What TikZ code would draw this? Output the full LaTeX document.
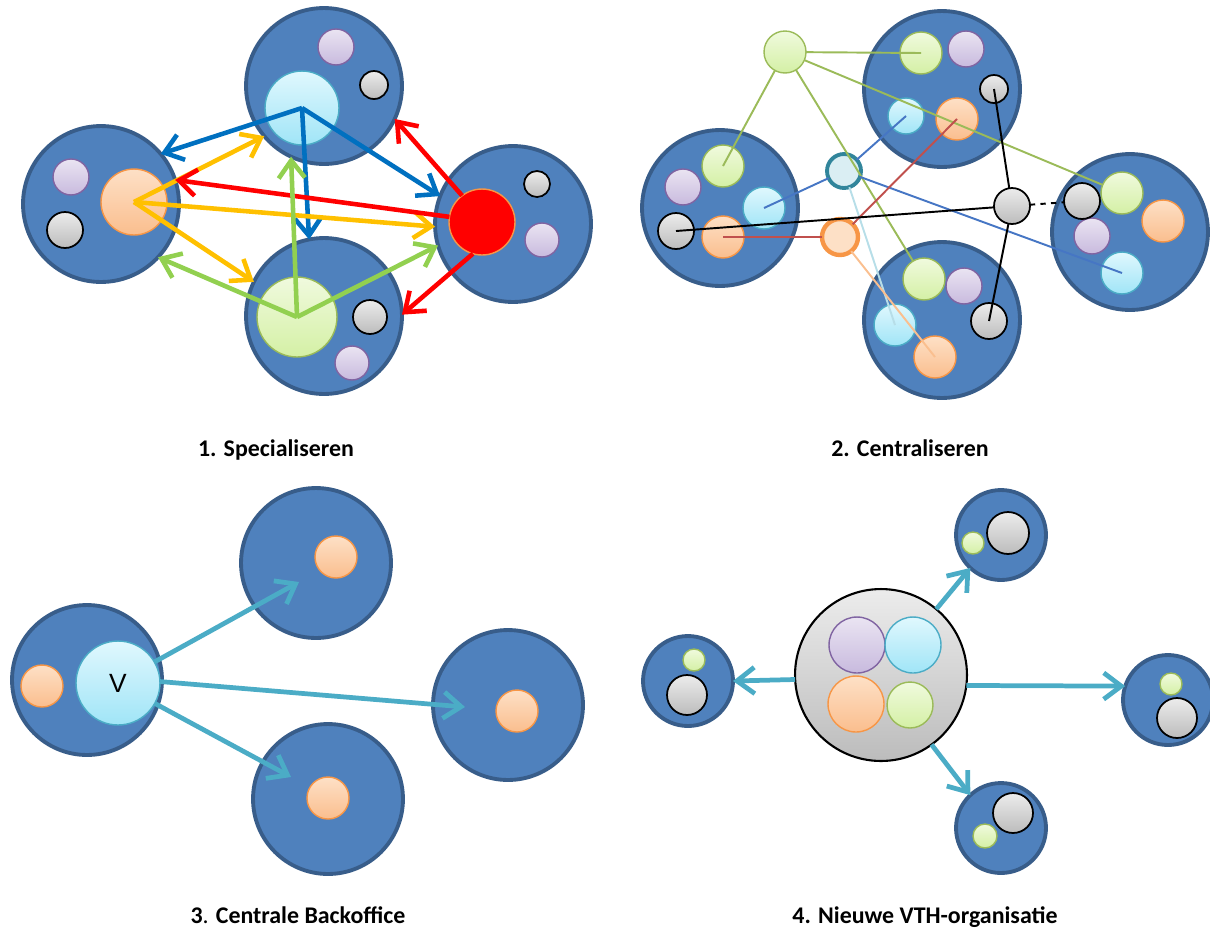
\documentclass[tikz,border=0pt]{standalone}
\usepackage[RGB]{xcolor}
\usepackage{tikz}
\usetikzlibrary{arrows.meta}
\usepackage{fontspec}
\setmainfont{Carlito}
\newfontfamily\arialfont{Liberation Sans}
\definecolor{CL}{RGB}{79,129,189}
\definecolor{CLB}{RGB}{56,93,138}
\definecolor{P1}{RGB}{234,228,242}
\definecolor{P2}{RGB}{200,186,222}
\definecolor{PB}{RGB}{128,100,162}
\definecolor{C1}{RGB}{224,248,254}
\definecolor{C2}{RGB}{160,229,247}
\definecolor{CB}{RGB}{75,172,198}
\definecolor{O1}{RGB}{253,224,198}
\definecolor{O2}{RGB}{250,190,142}
\definecolor{OB}{RGB}{247,150,70}
\definecolor{G1}{RGB}{240,250,222}
\definecolor{G2}{RGB}{212,240,165}
\definecolor{GB}{RGB}{155,187,89}
\definecolor{K1}{RGB}{236,236,236}
\definecolor{K2}{RGB}{188,188,188}
\definecolor{BL}{RGB}{0,112,192}
\definecolor{YE}{RGB}{255,192,0}
\definecolor{GR}{RGB}{146,208,80}
\definecolor{TQ}{RGB}{75,172,198}
\definecolor{LB}{RGB}{70,118,196}
\definecolor{LC}{RGB}{183,222,232}
\definecolor{LR}{RGB}{192,80,77}
\definecolor{LO}{RGB}{250,191,143}
\definecolor{HC}{RGB}{218,238,243}
\definecolor{HCB}{RGB}{49,133,155}
\newcommand{\paneltitle}[4]{\node[anchor=base, font=\fontsize{13.6}{16}\selectfont\bfseries] (#1) at (#2,#3) {#4};}
\tikzset{
  ball/.style={circle, inner sep=0pt, outer sep=0pt, minimum size=#1*0.04cm},
  cl/.style={ball=#1, fill=CL, draw=CLB, line width=2.2pt},
  pu/.style={ball=#1, top color=P1, bottom color=P2, draw=PB, line width=0.8pt},
  cb/.style={ball=#1, top color=C1, bottom color=C2, draw=CB, line width=0.8pt},
  og/.style={ball=#1, top color=O1, bottom color=O2, draw=OB, line width=0.8pt},
  gn/.style={ball=#1, top color=G1, bottom color=G2, draw=GB, line width=0.8pt},
  gy/.style={ball=#1, top color=K1, bottom color=K2, draw=black, line width=1pt},
  arrA/.style={line width=2.6pt, -{Straight Barb[length=10pt,width=15pt]}},
  arrB/.style={TQ, line width=2.7pt, -{Straight Barb[length=10pt,width=15pt]}},
  link/.style={line width=1.1pt},
}

\begin{document}
\begin{tikzpicture}[x=0.02cm, y=-0.02cm]
\useasboundingbox (0,0) rectangle (1210,931);
% 1. Specialiseren
\node[cl=78] (t1) at (324,86) {};
\node[pu=18] (t1p) at (336,47) {};
\node[gy=14] (t1k) at (374,85) {};
\node[cb=37] (t1c) at (302,108) {};
\node[cl=78] (l1) at (101,204) {};
\node[pu=18] (l1p) at (71,177) {};
\node[og=33] (l1o) at (134,202) {};
\node[gy=18] (l1k) at (65,230) {};
\node[cl=78] (r1) at (513,224) {};
\node[ball=33, fill=red, draw=OB, line width=0.8pt] (r1r) at (482,222) {};
\node[gy=13] (r1k) at (537,184) {};
\node[pu=17] (r1p) at (542,240) {};
\node[cl=78] (b1) at (324,316) {};
\node[gn=40] (b1g) at (297,317) {};
\node[gy=17] (b1k) at (370,317) {};
\node[pu=17] (b1p) at (352,363) {};
\draw[arrA, BL] (t1c.center) -- (l1.40);
\draw[arrA, BL] (t1c.center) -- (r1.159);
\draw[arrA, BL] (t1c.center) -- (b1.101);
\draw[arrA, YE] (l1o.center) -- (t1.220);
\draw[arrA, YE] (l1o.center) -- (r1.182);
\draw[arrA, YE] (l1o.center) -- (b1.154);
\draw[arrA, red] (r1r.171) -- (l1.18);
\draw[arrA, red] (r1r.127) -- (t1.335);
\draw[arrA, red] (r1r.254) -- (b1.1);
\draw[arrA, GR] (b1g.center) -- (l1.317);
\draw[arrA, GR] (b1g.center) -- (t1.245);
\draw[arrA, GR] (b1g.center) -- (r1.196);
\paneltitle{s1}{276}{456}{1. Specialiseren}
% 2. Centraliseren
\node[cl=78] (t2) at (942,89) {};
\node[gn=21] (t2g) at (921,53) {};
\node[pu=18] (t2p) at (966,49) {};
\node[gy=14] (t2k) at (994,89) {};
\node[cb=18] (t2c) at (906,116) {};
\node[og=21] (t2o) at (957,119) {};
\node[cl=78] (l2) at (720,208) {};
\node[gn=21] (l2g) at (723,166) {};
\node[pu=18] (l2p) at (683,187) {};
\node[cb=21] (l2c) at (764,208) {};
\node[gy=18] (l2k) at (676,231) {};
\node[og=21] (l2o) at (723,237) {};
\node[cl=78] (r2) at (1130,232) {};
\node[gn=21] (r2g) at (1122,193) {};
\node[pu=18] (r2p) at (1092,236) {};
\node[og=21] (r2o) at (1163,221) {};
\node[cb=21] (r2c) at (1122,273) {};
\node[gy=18] (r2k) at (1082,201) {};
\node[cl=78] (b2) at (942,320) {};
\node[gn=21] (b2g) at (924,279) {};
\node[pu=18] (b2p) at (964,286) {};
\node[gy=18] (b2k) at (989,321) {};
\node[cb=21] (b2c) at (895,325) {};
\node[og=21] (b2o) at (935,357) {};
\node[gn=21] (hg) at (785,52) {};
\node[ball=17, fill=HC, draw=HCB, line width=2.2pt] (hc) at (844,171) {};
\node[ball=18, fill=O1, draw=OB, line width=2.5pt] (ho) at (840,237) {};
\node[gy=18] (hk) at (1012,206) {};
\draw[link, GB] (hg) -- (t2g.center);
\draw[link, GB] (hg) -- (l2g.center);
\draw[link, GB] (hg) -- (b2g);
\draw[link, GB] (hg) -- (r2g);
\draw[link, LB] (hc) -- (t2c.center);
\draw[link, LB] (hc) -- (l2c.center);
\draw[link, LB] (hc) -- (r2c.center);
\draw[link, LC] (hc) -- (b2c.center);
\draw[link, LR] (ho) -- (t2o.center);
\draw[link, LR] (ho) -- (l2o.center);
\draw[link, LO] (ho) -- (b2o.center);
\draw[link] (hk) -- (t2k.center);
\draw[link] (hk) -- (l2k.center);
\draw[link] (hk) -- (b2k.center);
\draw[link, dashed] (hk) -- (r2k);
\paneltitle{s2}{910}{456}{2. Centraliseren}
% 3. Centrale Backoffice
\node[cl=75] (l3) at (87,680) {};
\node[og=21] (l3o) at (42,686) {};
\node[cb=42, font=\arialfont\fontsize{15}{18}\selectfont] (v3) at (118,683) {V};
\node[cl=75] (t3) at (316,563) {};
\node[og=21] (t3o) at (336,557) {};
\node[cl=75] (r3) at (508,705) {};
\node[og=21] (r3o) at (517,711) {};
\node[cl=75] (b3) at (328,799) {};
\node[og=21] (b3o) at (328,798) {};
\coordinate (t3e) at (299,582);
\coordinate (r3e) at (465,707);
\coordinate (b3e) at (291,777);
\draw[arrB] (v3.30) -- (t3e);
\draw[arrB] (v3.2) -- (r3e);
\draw[arrB] (v3.331) -- (b3e);
\paneltitle{s3}{298}{923}{3{\mdseries.} Centrale Backoffice}
% 4. Nieuwe VTH-organisatie
\node[ball=86, top color=K1, bottom color=K2, draw=black, line width=1.2pt] (c4) at (881,675) {};
\node[pu=28] (c4p) at (857,645) {};
\node[cb=28] (c4c) at (913,645) {};
\node[og=28] (c4o) at (856,704) {};
\node[gn=23] (c4g) at (910,705) {};
\node[cl=45] (tr4) at (1001,535) {};
\node[gy=21] (tr4k) at (1008,533) {};
\node[gn=11] (tr4g) at (973,543) {};
\node[cl=45] (l4) at (688,681) {};
\node[gn=11] (l4g) at (694,660) {};
\node[gy=20] (l4k) at (687,695) {};
\node[cl=45] (r4) at (1168,700) {};
\node[gn=11] (r4g) at (1171,684) {};
\node[gy=20] (r4k) at (1177,718) {};
\node[cl=45] (b4) at (1001,828) {};
\node[gy=20] (b4k) at (1013,813) {};
\node[gn=12] (b4g) at (985,836) {};
\draw[arrB] (c4.183) -- (l4.0);
\draw[arrB] (c4.353) -- (r4.162);
\draw[arrB] (c4.50) -- (tr4.227);
\draw[arrB] (c4.306) -- (b4.133);
\paneltitle{s4}{925}{923}{4. Nieuwe VTH-organisatie}
\end{tikzpicture}
\end{document}
